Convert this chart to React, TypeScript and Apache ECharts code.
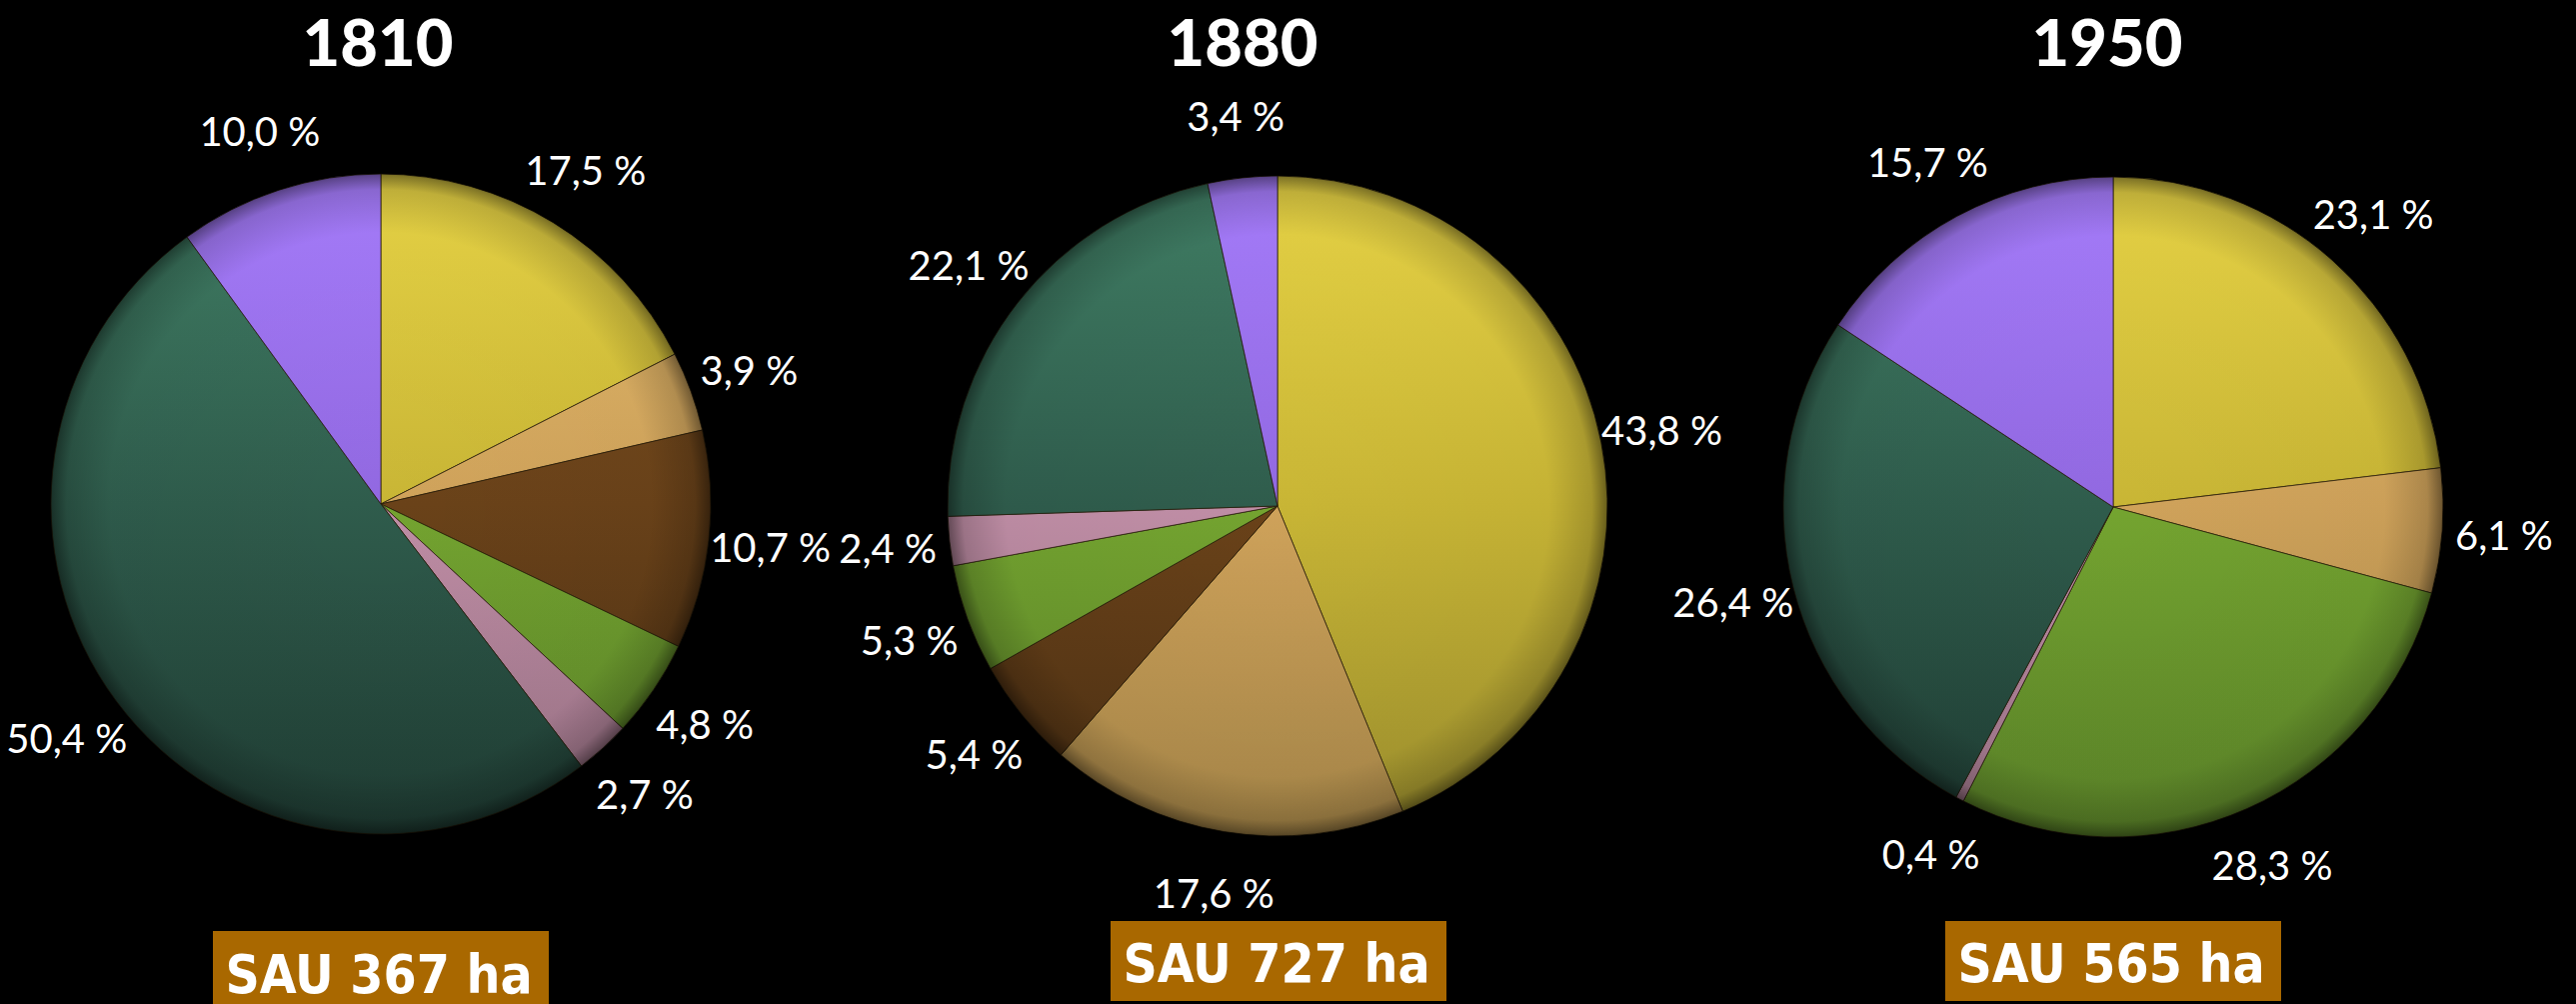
import React, { useEffect, useRef } from "react";
import * as echarts from "echarts";

// ---- data ----
const categories = ["Jaune", "Beige", "Brun", "Vert clair", "Rose", "Vert foncé", "Violet"];
const years = ["1810", "1880", "1950"];
const values1810 = [17.5, 3.9, 10.7, 4.8, 2.7, 50.4, 10.0];
const values1880 = [43.8, 17.6, 5.4, 5.3, 2.4, 22.1, 3.4];
const values1950 = [23.1, 6.1, 0, 28.3, 0.4, 26.4, 15.7];
const sauHa = [367, 727, 565];

// ---- styles / layout ----
const W = 2577;
const H = 1004;
const R = 330;
const pieCenters = [
  [381, 504],
  [1278, 506],
  [2114, 507],
];
const titleX = [378, 1243, 2108];
const boxes = [
  { x: 213, y: 931, w: 336, h: 80, tx: 379, ty: 974 },
  { x: 1111, y: 921, w: 336, h: 80, tx: 1277, ty: 963 },
  { x: 1946, y: 921, w: 336, h: 80, tx: 2112, ty: 963 },
];
const palette = [
  ["#ead646", "#c8b535", "#9c8f2e"],
  ["#e8be6e", "#cfa25a", "#a68648"],
  ["#7c5020", "#6a4219", "#4c3013"],
  ["#8ac23a", "#74a430", "#5a8228"],
  ["#dba8bf", "#c08ea6", "#977083"],
  ["#418066", "#2f5c4c", "#1f3c33"],
  ["#a87eff", "#9168e0", "#7256b5"],
];

const fmt = (v: number) => v.toFixed(1).replace(".", ",") + " %";

export default function App() {
  const ref = useRef<HTMLDivElement>(null);
  useEffect(() => {
    document.body.style.margin = "0";
    document.body.style.background = "#000";
    if (!ref.current) return;
    const chart = echarts.init(ref.current, undefined, { renderer: "svg" });
    const allValues = [values1810, values1880, values1950];
    const series: any[] = [];
    allValues.forEach((vals, k) => {
      const [cx, cy] = pieCenters[k];
      const data = vals
        .map((v, i) => ({
          name: categories[i],
          value: v,
          itemStyle: {
            color: {
              type: "linear",
              x: 0,
              y: cy - R,
              x2: 0,
              y2: cy + R,
              global: true,
              colorStops: [
                { offset: 0, color: palette[i][0] },
                { offset: 0.5, color: palette[i][1] },
                { offset: 1, color: palette[i][2] },
              ],
            },
          },
        }))
        .filter((d) => d.value > 0);
      series.push({
        type: "pie",
        center: [cx, cy],
        radius: R,
        startAngle: 90,
        clockwise: true,
        silent: true,
        data,
        label: { show: false },
        labelLine: { show: false },
        itemStyle: { borderColor: "rgba(40,30,10,0.75)", borderWidth: 1 },
        z: 2,
      });
      // shading overlay for 3D look
      series.push({
        type: "pie",
        center: [cx, cy],
        radius: R + 1,
        silent: true,
        data: [{ value: 1, name: "shade" }],
        label: { show: false },
        labelLine: { show: false },
        itemStyle: {
          color: {
            type: "radial",
            x: 0.5,
            y: 0.5,
            r: 0.5,
            colorStops: [
              { offset: 0, color: "rgba(0,0,0,0)" },
              { offset: 0.82, color: "rgba(0,0,0,0.02)" },
              { offset: 0.95, color: "rgba(0,0,0,0.18)" },
              { offset: 1, color: "rgba(0,0,0,0.5)" },
            ],
          },
        },
        z: 3,
      });
      // label ring (transparent) so labels sit centred at the right radius
      series.push({
        type: "pie",
        center: [cx, cy],
        radius: [374, 404],
        startAngle: 90,
        clockwise: true,
        silent: true,
        data: data.map((d) => ({ name: d.name, value: d.value })),
        itemStyle: { color: "rgba(0,0,0,0)", borderWidth: 0 },
        label: {
          show: true,
          position: "inside",
          formatter: (p: any) => fmt(p.value),
          color: "#ffffff",
          fontSize: 40,
          fontFamily: "Lato, 'Open Sans', sans-serif",
        },
        labelLine: { show: false },
        z: 4,
      });
    });

    const graphic: any[] = [];
    years.forEach((y, k) => {
      graphic.push({
        type: "text",
        x: titleX[k],
        y: 41,
        style: {
          text: y,
          fill: "#ffffff",
          font: "900 65px Lato, sans-serif",
          textAlign: "center",
          align: "center",
          textVerticalAlign: "middle",
          verticalAlign: "middle",
        },
      });
      const b = boxes[k];
      graphic.push({
        type: "rect",
        shape: { x: b.x, y: b.y, width: b.w, height: b.h },
        style: { fill: "#a96800" },
      });
      graphic.push({
        type: "text",
        x: b.tx,
        y: b.ty,
        style: {
          text: "SAU " + sauHa[k] + " ha",
          fill: "#ffffff",
          font: "bold 53px 'DejaVu Sans Condensed', 'DejaVu Sans', sans-serif",
          textAlign: "center",
          align: "center",
          textVerticalAlign: "middle",
          verticalAlign: "middle",
        },
      });
    });

    chart.setOption({
      animation: false,
      backgroundColor: "#000000",
      series,
      graphic,
    });
    return () => chart.dispose();
  }, []);
  return <div ref={ref} style={{ width: W, height: H, background: "#000" }} />;
}
